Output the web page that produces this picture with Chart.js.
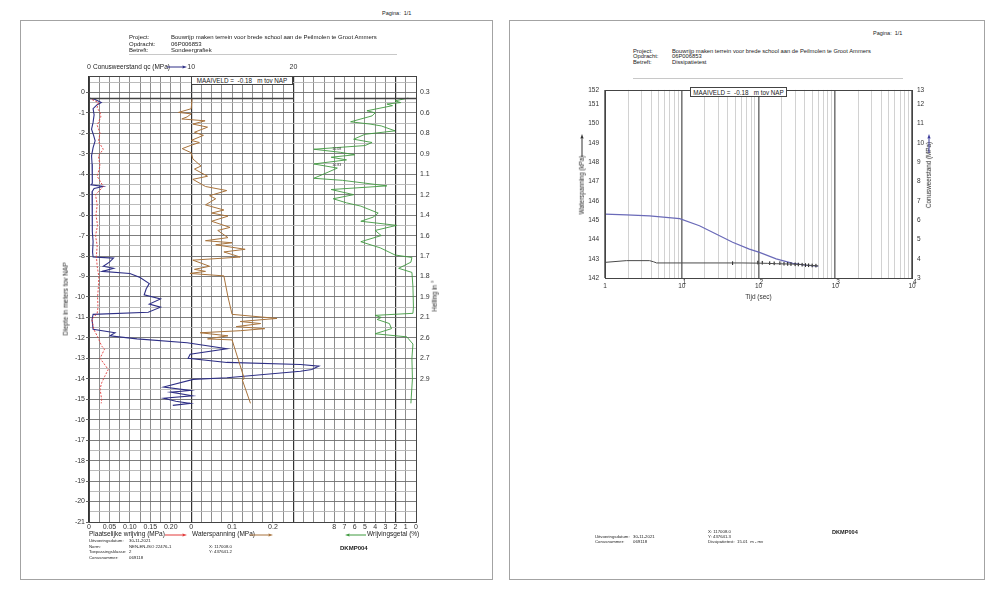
<!DOCTYPE html>
<html lang="nl">
<head>
<meta charset="utf-8">
<title>Sondeergrafiek DKMP004</title>
<script src="https://cdn.jsdelivr.net/npm/chart.js@4.4.1/dist/chart.umd.min.js"></script>
<style>
  body { margin:0; width:1000px; height:592px; position:relative; overflow:hidden; background:#fff;
         font-family:"Liberation Sans", Arial, sans-serif; color:#222; }
  .page { position:absolute; border:1px solid #a3a3a3; box-sizing:border-box; }
  .t { position:absolute; white-space:pre; line-height:1; }
  .rot { position:absolute; white-space:pre; line-height:1; transform:translate(-50%,-50%) rotate(-90deg); }
  .box { position:absolute; background:#fff; border:1px solid #444; box-sizing:border-box;
         display:flex; align-items:center; justify-content:center; white-space:pre; z-index:2; }
  .rule { position:absolute; border-top:1px solid #c8c8c8; height:0; }
  canvas { position:absolute; }
  #overlay { position:absolute; left:0; top:0; z-index:3; }
</style>
</head>
<body>
<div class="page" style="left:20px;top:20px;width:473px;height:560px"></div>
<div class="page" style="left:509px;top:20px;width:476px;height:560px"></div>

<canvas id="sondering" width="472" height="482" style="left:20px;top:56px"></canvas>
<canvas id="dissipatie" width="400" height="225" style="left:560px;top:80px"></canvas>

<div class="box" style="left:191px;top:76px;width:102px;height:9px;font-size:6.3px">MAAIVELD =  -0.18   m tov NAP</div>
<div class="box" style="left:690px;top:87px;width:97px;height:10px;font-size:6.3px">MAAIVELD =  -0.18   m tov NAP</div>

<svg id="overlay" width="1000" height="592"></svg>

<script>
/* =========================
   Data: sondeergrafiek
========================= */
// conusweerstand qc (MPa)
const qcDepth = [-0.28, -0.35, -0.5, -0.6, -0.8, -1.1, -1.47, -1.8, -2.1, -2.37, -2.7, -3.1, -3.5, -4.0, -4.45, -4.52, -4.6, -4.7, -4.85,
  -5.3, -5.8, -6.3, -6.8, -7.3, -7.8, -8.05, -8.1, -8.3, -8.5, -8.6, -8.75, -8.85, -9.05, -9.35, -9.6, -9.9, -10.1, -10.35, -10.5, -10.75,
  -10.85, -11.1, -11.58, -11.75, -11.9, -12.05, -12.24, -12.53, -12.8, -13.0, -13.2, -13.3, -13.38, -13.55, -13.63, -13.95, -14.03,
  -14.4, -14.57, -14.65, -14.83, -14.95, -15.1, -15.2, -15.3];
const qcValue = [0.0, 0.6, 1.2, 0.8, 0.4, 0.5, 0.4, 0.25, 0.45, 0.6, 0.4, 0.25, 0.3, 0.3, 0.35, 0.2, 1.4, 0.5, 0.3,
  0.35, 0.3, 0.35, 0.3, 0.4, 0.35, 0.4, 2.4, 2.0, 1.4, 2.4, 1.3, 4.0, 5.0, 5.9, 5.6, 5.4, 7.0, 5.9, 7.0, 5.8,
  0.4, 0.3, 0.4, 2.55, 2.05, 4.7, 9.6, 13.5, 9.9, 9.7, 13.5, 20.7, 22.5, 21.8, 20.7, 13.5, 10.2,
  7.3, 9.9, 8.0, 10.1, 7.3, 8.5, 9.9, 8.2];

// plaatselijke wrijving fs (MPa)
const fsDepth = [-0.28, -0.5, -0.75, -0.98, -1.2, -1.6, -2.0, -2.4, -2.78, -3.1, -3.6, -4.1, -4.6, -5.0, -5.5, -6.0, -6.5, -7.0,
  -7.5, -8.0, -8.5, -9.0, -9.5, -10.0, -10.5, -10.8, -11.1, -11.6, -11.9, -12.4, -12.55, -13.0, -13.35, -13.55, -13.9, -14.2,
  -14.5, -15.0, -15.2];
const fsValue = [0.0, 0.023, 0.02, 0.027, 0.029, 0.02, 0.027, 0.023, 0.035, 0.023, 0.027, 0.02, 0.035, 0.016, 0.02, 0.017, 0.021, 0.016,
  0.02, 0.018, 0.02, 0.024, 0.023, 0.021, 0.022, 0.02, 0.007, 0.012, 0.02, 0.031, 0.038, 0.027, 0.04, 0.047, 0.038, 0.031,
  0.027, 0.031, 0.03];

// waterspanning u (MPa)
const uDepth = [-0.33, -0.8, -0.98, -1.05, -1.2, -1.3, -1.39, -1.55, -1.7, -1.95, -2.1, -2.35, -2.45, -2.6, -2.75, -2.95, -3.25,
  -3.6, -3.75, -4.1, -4.25, -4.6, -4.8, -5.05, -5.2, -5.5, -5.75, -5.9, -6.05, -6.3, -6.6, -6.75, -7.1, -7.25, -7.35, -7.45, -7.67,
  -7.8, -8.05, -8.2, -8.5, -8.65, -8.75, -8.85, -8.97, -10.0, -10.85, -11.05, -11.2, -11.3, -11.45, -11.55, -11.65, -11.75, -11.9,
  -12.05, -12.1, -14.0, -14.05, -15.2];
const uValue = [0.002, 0.0, -0.031, 0.0, -0.01, -0.023, 0.034, 0.004, 0.04, 0.008, 0.03, 0.0, 0.02, -0.002, -0.022, 0.0, 0.004,
  0.024, 0.008, 0.04, 0.004, 0.035, 0.087, 0.045, 0.06, 0.035, 0.08, 0.05, 0.09, 0.05, 0.095, 0.065, 0.09, 0.035, 0.1, 0.06, 0.132,
  0.08, 0.12, 0.004, 0.045, 0.008, 0.035, -0.003, 0.08, 0.09, 0.1, 0.21, 0.12, 0.17, 0.11, 0.18, 0.12, 0.022, 0.09,
  0.04, 0.1, 0.13, 0.125, 0.145];

// wrijvingsgetal Rf (%)
const rfDepth = [-0.28, -0.41, -0.5, -0.57, -0.65, -0.9, -1.0, -1.15, -1.44, -1.55, -1.64, -1.88, -2.05, -2.29, -2.45, -2.6, -2.78,
  -2.93, -3.05, -3.17, -3.3, -3.5, -3.7, -3.9, -4.2, -4.3, -4.57, -4.75, -5.0, -5.2, -5.4, -5.56, -5.9, -6.1, -6.3, -6.5, -6.75,
  -7.0, -7.3, -7.6, -7.95, -8.07, -8.3, -8.6, -8.8, -9.5, -10.5, -10.8, -10.9, -11.0, -11.1, -11.3, -11.55, -11.8, -11.95, -12.3,
  -13.0, -14.0, -15.2];
const rfValue = [0.75, 2.05, 1.5, 2.85, 2.3, 4.8, 4.0, 4.3, 6.4, 4.5, 3.4, 2.05, 5.0, 6.1, 4.3, 5.0, 10.0,
  7.4, 6.0, 8.3, 6.8, 10.0, 7.7, 8.6, 10.0, 7.2, 2.85, 8.3, 6.1, 8.1, 6.8, 5.4, 3.7, 4.2, 5.4, 1.9, 4.0,
  3.4, 5.4, 3.5, 2.05, 0.4, 0.5, 1.7, 0.4, 0.3, 0.25, 0.3, 4.0, 3.4, 3.8, 2.6, 2.4, 4.0, 0.9, 0.3,
  0.4, 0.35, 0.5];
const rfNoteDepth = [-2.78, -3.55];
const rfNoteText = ["10.08", "10.83"];

// helling (graden) per meter
const hellingDepth = [0, -1, -2, -3, -4, -5, -6, -7, -8, -9, -10, -11, -12, -13, -14];
const hellingLabels = ["0.3", "0.6", "0.8", "0.9", "1.1", "1.2", "1.4", "1.6", "1.7", "1.8", "1.9", "2.1", "2.6", "2.7", "2.9"];

const qcTicks = [0, 10, 20];
const fsTicks = [0, 0.05, 0.10, 0.15, 0.20];
const uTicks = [0, 0.1, 0.2];
const rfTicks = [8, 7, 6, 5, 4, 3, 2, 1, 0];
const startDepth = -0.3;

/* =========================
   Data: dissipatietest
========================= */
const coneTime = [1, 1.9, 3.8, 9.4, 17, 28, 46, 76, 103, 170, 280, 420, 600];
const coneValue = [6.31, 6.27, 6.22, 6.08, 5.71, 5.28, 4.85, 4.5, 4.33, 3.99, 3.76, 3.66, 3.61];
const wsTime = [1, 1.9, 3.8, 4.3, 4.7, 10, 30, 60, 100, 130, 170, 220, 280, 350, 420, 500, 600];
const wsValue = [142.81, 142.9, 142.9, 142.84, 142.78, 142.78, 142.78, 142.78, 142.77, 142.76, 142.74, 142.73, 142.72, 142.7, 142.67, 142.65, 142.63];
const wsMarkTime = [46, 98, 112, 140, 160, 190, 215, 240, 265, 300, 330, 370, 410, 450, 500, 560];
const wsMarkValue = [142.77, 142.8, 142.79, 142.77, 142.76, 142.77, 142.74, 142.73, 142.72, 142.71, 142.7, 142.69, 142.67, 142.66, 142.65, 142.64];
const wsTicks = [142, 143, 144, 145, 146, 147, 148, 149, 150, 151];
const coneTicks = [3, 4, 5, 6, 7, 8, 9, 10, 11, 12];

/* =========================
   Helpers
========================= */
const FONT = '"Liberation Sans", Arial, sans-serif';
const pts = (xs, ys) => xs.map((x, i) => ({ x: x, y: ys[i] }));

function txt(s, x, y, size, extra) {
    const d = document.createElement("div");
    d.className = "t";
    d.textContent = s;
    d.style.left = x + "px";
    d.style.top = (y - size / 2) + "px";
    d.style.fontSize = size + "px";
    if (extra) Object.assign(d.style, extra);
    document.body.appendChild(d);
}

function rot(s, x, y, size) {
    const d = document.createElement("div");
    d.className = "rot";
    d.textContent = s;
    d.style.left = x + "px";
    d.style.top = y + "px";
    d.style.fontSize = size + "px";
    document.body.appendChild(d);
}

function rule(x, y, w) {
    const d = document.createElement("div");
    d.className = "rule";
    d.style.left = x + "px";
    d.style.top = y + "px";
    d.style.width = w + "px";
    document.body.appendChild(d);
}

const NS = "http://www.w3.org/2000/svg";
function arrow(x1, y1, x2, y2, color) {
    const svg = document.getElementById("overlay");
    const a = Math.atan2(y2 - y1, x2 - x1);
    const L = 4.5, W = 1.6;
    const bx = x2 - L * Math.cos(a), by = y2 - L * Math.sin(a);
    const line = document.createElementNS(NS, "line");
    line.setAttribute("x1", x1); line.setAttribute("y1", y1);
    line.setAttribute("x2", bx); line.setAttribute("y2", by);
    line.setAttribute("stroke", color); line.setAttribute("stroke-width", "1");
    svg.appendChild(line);
    const head = document.createElementNS(NS, "polygon");
    head.setAttribute("points", [
        x2 + "," + y2,
        (bx + W * Math.sin(a)) + "," + (by - W * Math.cos(a)),
        (bx - W * Math.sin(a)) + "," + (by + W * Math.cos(a))
    ].join(" "));
    head.setAttribute("fill", color);
    svg.appendChild(head);
}

const framePlugin = {
    id: "frame",
    afterDatasetsDraw(chart) {
        const a = chart.chartArea, ctx = chart.ctx;
        ctx.save();
        ctx.strokeStyle = "#444";
        ctx.lineWidth = 1;
        ctx.strokeRect(Math.round(a.left) + 0.5, Math.round(a.top) + 0.5,
            Math.round(a.right - a.left), Math.round(a.bottom - a.top));
        ctx.restore();
    }
};

/* =========================
   Page texts
========================= */
// left page
txt("Pagina:  1/1", 382, 14, 5.5);
txt("Project:", 129, 37, 6);
txt("Opdracht:", 129, 43.5, 6);
txt("Betreft:", 129, 50, 6);
txt("Bouwrijp maken terrein voor brede school aan de Peilmolen te Groot Ammers", 171, 37, 6);
txt("06P006853", 171, 43.5, 6);
txt("Sondeergrafiek", 171, 50, 6);
rule(129, 54, 268);
txt("Conusweerstand qc (MPa)", 93, 67, 6.5);
arrow(167, 67, 187, 67, "#2e2f86");
rot("Diepte in meters tov NAP", 66, 299, 6.5);
rot("Helling in \u00b0", 435, 296, 6.5);
txt("Plaatselijke wrijving (MPa)", 89, 534.5, 6.5);
arrow(165, 535, 187, 535, "#e23b3b");
txt("Waterspanning (MPa)", 192, 534.5, 6.5);
arrow(250, 535, 273, 535, "#a8733c");
arrow(366, 535, 345, 535, "#3f9a3f");
txt("Wrijvingsgetal (%)", 367, 534.5, 6.5);
txt("Uitvoeringsdatum:", 89, 541, 4.3);
txt("Norm:", 89, 547, 4.3);
txt("Toepassingsklasse:", 89, 552.5, 4.3);
txt("Conusnummer:", 89, 558, 4.3);
txt("30-11-2021", 129, 541, 4.3);
txt("NEN-EN-ISO 22476-1", 129, 547, 4.3);
txt("2", 129, 552.5, 4.3);
txt("069118", 129, 558, 4.3);
txt("X: 117008.0", 209, 547, 4.3);
txt("Y: 437641.2", 209, 552.5, 4.3);
txt("DKMP004", 340, 548, 6, { fontWeight: "bold" });

// right page
txt("Pagina:  1/1", 873, 34, 5.5);
txt("Project:", 633, 51.5, 5.8);
txt("Opdracht:", 633, 57, 5.8);
txt("Betreft:", 633, 62.5, 5.8);
txt("Bouwrijp maken terrein voor brede school aan de Peilmolen te Groot Ammers", 672, 51.5, 5.8);
txt("06P006853", 672, 57, 5.8);
txt("Dissipatietest", 672, 62.5, 5.8);
rule(633, 78, 270);
rot("Waterspanning (kPa)", 582, 185, 6.3);
arrow(582, 157, 582, 134, "#333");
rot("Conusweerstand (MPa)", 929, 175, 6.3);
arrow(929, 153, 929, 134, "#3a3a9a");
txt("Uitvoeringsdatum:", 595, 537, 4.3);
txt("Conusnummer:", 595, 542, 4.3);
txt("30-11-2021", 633, 537, 4.3);
txt("069118", 633, 542, 4.3);
txt("X: 117008.0", 708, 532, 4.3);
txt("Y: 437641.3", 708, 537, 4.3);
txt("Dissipatietest:", 708, 542, 4.3);
txt("15.01  m - mv", 737, 542, 4.3);
txt("DKMP004", 832, 533, 5.6, { fontWeight: "bold" });

/* =========================
   Sondeergrafiek chart
========================= */
// full grid width is 32 MPa of qc; the other series share that grid
const gridMax = 32;
const fsPerCell = 0.025;   // 1 qc-cell = 0.025 MPa wrijving
const uPerCell = 0.025;    // 1 qc-cell = 0.025 MPa waterspanning, zero at 10 MPa
const uZero = 10;

const bottomTicks = [];
fsTicks.forEach(v => bottomTicks.push({ value: v / fsPerCell, label: v === 0 ? "0" : v.toFixed(2) }));
uTicks.forEach(v => bottomTicks.push({ value: uZero + v / uPerCell, label: v === 0 ? "0" : v.toFixed(1) }));
rfTicks.forEach(v => bottomTicks.push({ value: gridMax - v, label: String(v) }));

const rfNotes = {
    id: "rfNotes",
    afterDatasetsDraw(chart) {
        const xs = chart.scales.xRf, ys = chart.scales.y, ctx = chart.ctx;
        ctx.save();
        ctx.font = "3.6px " + FONT;
        ctx.fillStyle = "#333";
        ctx.textBaseline = "middle";
        rfNoteDepth.forEach((d, i) => {
            ctx.fillText(rfNoteText[i], xs.getPixelForValue(8.2), ys.getPixelForValue(d));
        });
        ctx.restore();
    }
};

const tickFont = { family: FONT, size: 7 };

new Chart(document.getElementById("sondering"), {
    type: "scatter",
    data: {
        datasets: [
            { label: "start", data: [{ x: 0, y: startDepth }, { x: 20, y: startDepth }, { x: 22, y: null }, { x: 24, y: startDepth }, { x: gridMax, y: startDepth }],
              xAxisID: "xQc", yAxisID: "y", showLine: true, spanGaps: false, borderColor: "#444", borderWidth: 1.6, pointRadius: 0 },
            { label: "fs", data: pts(fsValue, fsDepth), xAxisID: "xFs", yAxisID: "y", showLine: true,
              borderColor: "#e23b3b", borderWidth: 0.9, borderDash: [2, 1.5], pointRadius: 0 },
            { label: "u", data: pts(uValue, uDepth), xAxisID: "xU", yAxisID: "y", showLine: true,
              borderColor: "#a8733c", borderWidth: 1, pointRadius: 0 },
            { label: "Rf", data: pts(rfValue, rfDepth), xAxisID: "xRf", yAxisID: "y", showLine: true,
              borderColor: "#3f9a3f", borderWidth: 0.9, pointRadius: 0 },
            { label: "qc", data: pts(qcValue, qcDepth), xAxisID: "xQc", yAxisID: "y", showLine: true,
              borderColor: "#2e2f86", borderWidth: 1.1, pointRadius: 0 }
        ]
    },
    options: {
        responsive: false,
        animation: false,
        layout: { padding: 0 },
        plugins: { legend: { display: false }, tooltip: { enabled: false } },
        scales: {
            xQc: {
                type: "linear", position: "top", min: 0, max: gridMax,
                afterBuildTicks: s => { s.ticks = []; for (let v = 0; v <= gridMax; v++) s.ticks.push({ value: v }); },
                afterFit: s => { s.height = 20; },
                grid: {
                    color: c => (c.tick && c.tick.value % 10 === 0) ? "#333" : "#808080",
                    lineWidth: c => (c.tick && c.tick.value % 10 === 0) ? 1.2 : 0.9,
                    drawTicks: false
                },
                border: { display: false },
                ticks: { autoSkip: false, maxRotation: 0, padding: 5, font: tickFont, color: "#333",
                         callback: v => qcTicks.includes(v) ? String(v) : "" }
            },
            xB: {
                type: "linear", position: "bottom", min: 0, max: gridMax,
                afterBuildTicks: s => { s.ticks = bottomTicks.map(t => ({ value: t.value })); },
                afterFit: s => { s.height = 16; },
                grid: { display: false, drawTicks: false },
                border: { display: false },
                ticks: { autoSkip: false, maxRotation: 0, padding: 1, font: tickFont, color: "#333",
                         callback: (v, i) => bottomTicks[i].label }
            },
            xFs: { type: "linear", display: false, min: 0, max: gridMax * fsPerCell },
            xU: { type: "linear", display: false, min: -uZero * uPerCell, max: (gridMax - uZero) * uPerCell },
            xRf: { type: "linear", display: false, min: 0, max: gridMax, reverse: true },
            y: {
                type: "linear", position: "left", min: -21, max: 0.8,
                afterBuildTicks: s => { s.ticks = []; for (let i = -42; i <= 1; i++) s.ticks.push({ value: i / 2 }); },
                afterFit: s => { s.width = 69; },
                grid: {
                    color: c => (c.tick && Number.isInteger(c.tick.value)) ? "#6e6e6e" : "#b3b3b3",
                    lineWidth: 0.9,
                    tickLength: 3,
                    tickColor: c => (c.tick && Number.isInteger(c.tick.value)) ? "#555" : "rgba(0,0,0,0)"
                },
                border: { display: false },
                ticks: { autoSkip: false, padding: 1, font: tickFont, color: "#333",
                         callback: v => Number.isInteger(v) ? String(v) : "" }
            },
            yH: {
                type: "linear", position: "right", min: -21, max: 0.8,
                afterBuildTicks: s => { s.ticks = hellingDepth.map(v => ({ value: v })); },
                afterFit: s => { s.width = 76; },
                grid: { drawOnChartArea: false, drawTicks: false },
                border: { display: false },
                ticks: { autoSkip: false, padding: 4, font: tickFont, color: "#333",
                         callback: (v, i) => hellingLabels[i] }
            }
        }
    },
    plugins: [framePlugin, rfNotes]
});

/* =========================
   Dissipatietest chart
========================= */
const isDecade = v => Math.abs(Math.log10(v) - Math.round(Math.log10(v))) < 1e-9;
const smallFont = { family: FONT, size: 6.5 };

new Chart(document.getElementById("dissipatie"), {
    type: "scatter",
    data: {
        datasets: [
            { label: "Waterspanning", data: pts(wsTime, wsValue), xAxisID: "x", yAxisID: "yW", showLine: true,
              borderColor: "#4a4a4a", borderWidth: 1, pointRadius: 0 },
            { label: "Meetpunten", data: pts(wsMarkTime, wsMarkValue), xAxisID: "x", yAxisID: "yW",
              pointStyle: "line", rotation: 90, pointRadius: 1.8, borderColor: "#111", borderWidth: 1 },
            { label: "Conusweerstand", data: pts(coneTime, coneValue), xAxisID: "x", yAxisID: "yC", showLine: true,
              borderColor: "#6a6ab8", borderWidth: 1.2, pointRadius: 0 }
        ]
    },
    options: {
        responsive: false,
        animation: false,
        layout: { padding: { top: 8 } },
        plugins: { legend: { display: false }, tooltip: { enabled: false } },
        scales: {
            x: {
                type: "logarithmic", position: "bottom", min: 1, max: 10000,
                afterBuildTicks: s => {
                    s.ticks = [];
                    for (let d = 1; d < 10000; d *= 10) for (let m = 1; m < 10; m++) s.ticks.push({ value: d * m });
                    s.ticks.push({ value: 10000 });
                },
                afterFit: s => { s.height = 27; },
                grid: {
                    color: c => (c.tick && isDecade(c.tick.value)) ? "#7a7a7a" : "#d2d2d2",
                    lineWidth: c => (c.tick && isDecade(c.tick.value)) ? 1.6 : 1,
                    drawTicks: false
                },
                border: { display: false },
                ticks: {
                    autoSkip: false, maxRotation: 0, padding: 2, color: "#333",
                    font: { family: FONT, size: 6.5, lineHeight: 0.65 },
                    callback: v => {
                        if (!isDecade(v)) return "";
                        const p = Math.round(Math.log10(v));
                        return p === 0 ? ["", "1"] : ["   " + p, "10"];
                    }
                },
                title: { display: true, text: "Tijd (sec)", font: smallFont, color: "#333", padding: { top: 0, bottom: 4 } }
            },
            yW: {
                type: "linear", position: "left", min: 142, max: 151.75,
                afterBuildTicks: s => { s.ticks = wsTicks.map(v => ({ value: v })).concat([{ value: s.max }]); },
                afterFit: s => { s.width = 45; },
                grid: { drawOnChartArea: false, drawTicks: false },
                border: { display: false },
                ticks: { autoSkip: false, padding: 6, font: smallFont, color: "#333", callback: v => String(Math.round(v)) }
            },
            yC: {
                type: "linear", position: "right", min: 3, max: 12.75,
                afterBuildTicks: s => { s.ticks = coneTicks.map(v => ({ value: v })).concat([{ value: s.max }]); },
                afterFit: s => { s.width = 48; },
                grid: { drawOnChartArea: false, drawTicks: false },
                border: { display: false },
                ticks: { autoSkip: false, padding: 5, font: smallFont, color: "#333", callback: v => String(Math.round(v)) }
            }
        }
    },
    plugins: [framePlugin]
});
</script>
</body>
</html>
